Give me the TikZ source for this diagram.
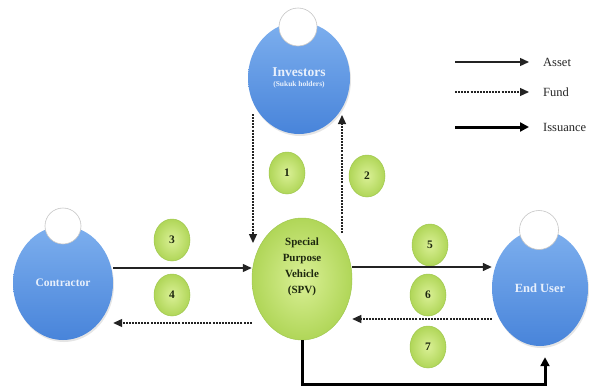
\documentclass[tikz,border=0pt]{standalone}
\usepackage{fontspec}
\setmainfont{Liberation Serif}
\usetikzlibrary{shapes.geometric,arrows.meta,calc,shadows}
\definecolor{blueL}{RGB}{125,175,238}
\definecolor{blueD}{RGB}{72,132,218}
\definecolor{greenL}{RGB}{218,240,150}
\definecolor{greenD}{RGB}{176,214,88}
\definecolor{greenE}{RGB}{160,200,80}
\definecolor{lineC}{RGB}{35,35,35}
\definecolor{txtW}{RGB}{232,240,252}
\definecolor{numT}{RGB}{30,40,15}
\begin{document}
\begin{tikzpicture}[x=1pt,y=-1pt,
  blueell/.style={ellipse, inner sep=0pt, top color=blueL, bottom color=blueD, draw=none,
    text=txtW, font=\bfseries, drop shadow={opacity=0.2, shadow xshift=1pt, shadow yshift=-2pt}},
  headc/.style={circle, inner sep=0pt, fill=white, draw=gray!45, line width=0.6pt},
  greenell/.style={ellipse, inner sep=0pt, inner color=greenL, outer color=greenD, draw=greenE, line width=0.5pt},
  numc/.style={greenell, minimum width=36pt, minimum height=42pt, text=numT,
    font=\bfseries\fontsize{11.5}{11.5}\selectfont},
  asset/.style={draw=lineC, line width=1.4pt, -{Triangle[length=9pt,width=8pt]}},
  fund/.style={draw=lineC, line width=1.2pt, dash pattern=on 2pt off 1.1pt, -{Triangle[length=9pt,width=8pt]}},
  issuance/.style={draw=black, line width=3pt, -{Triangle[length=9pt,width=9pt]}},
  legtxt/.style={anchor=west, inner sep=0pt, font=\fontsize{12.5}{12.5}\selectfont, text=black!85}
]
\useasboundingbox[fill=white] (0,0) rectangle (589,391);

% main nodes
\node[blueell, minimum width=102pt, minimum height=112pt, align=center] (inv) at (299,78)
  {\fontsize{13.5}{15}\selectfont Investors\\[-2pt]\fontsize{7.5}{9}\selectfont (Sukuk holders)};
\node[headc, minimum size=38pt] (invh) at (298,27) {};

\node[blueell, minimum width=100pt, minimum height=114pt, font=\bfseries\fontsize{11.5}{12}\selectfont] (con) at (63,283) {Contractor};
\node[headc, minimum size=36pt] (conh) at (63,226) {};

\node[blueell, minimum width=96pt, minimum height=116pt, font=\bfseries\fontsize{12.5}{13}\selectfont] (eu) at (540,288) {End User};
\node[headc, minimum size=39pt] (euh) at (539,230) {};

\node[greenell, minimum width=100pt, minimum height=122pt] (spv) at (302,279) {};
\node[align=center, inner sep=0pt, text=numT, font=\bfseries\fontsize{11}{16}\selectfont] (spvt) at (302,267)
  {Special\\Purpose\\Vehicle\\(SPV)};

% numbers
\node[numc] (n1) at (287,173) {1};
\node[numc] (n2) at (367,176) {2};
\node[numc] (n3) at (172,240) {3};
\node[numc] (n4) at (172,295) {4};
\node[numc] (n5) at (430,245) {5};
\node[numc] (n6) at (428,295) {6};
\node[numc] (n7) at (428,347) {7};

% connectors
\coordinate (invL) at ($(inv.center)+(-46,36)$);
\coordinate (spvTL) at ($(spv.center)+(-49,-36)$);
\coordinate (spvTR) at ($(spv.center)+(40,-46)$);
\coordinate (invR) at ($(inv.center)+(43,37)$);
\draw[fund] (invL) -- (spvTL);
\draw[fund] (spvTR) -- (invR);

\draw[asset] ([yshift=15pt]con.east) -- ([yshift=11pt]spv.west);
\draw[fund] ([yshift=-44pt]spv.west) -- ([yshift=-40pt]con.east);
\draw[asset] ([yshift=12pt]spv.east) -- ([yshift=21pt]eu.west);
\draw[fund] ([yshift=-31pt]eu.west) -- ([yshift=-40pt]spv.east);

\coordinate (euB) at ($(eu.south)+(5,11)$);
\draw[issuance] (spv.south) -- ++(0,44) -| (euB);

% legend
\node[legtxt] (lA) at (543,62) {Asset};
\node[legtxt] (lF) at (543,92) {Fund};
\node[legtxt] (lI) at (543,127) {Issuance};
\coordinate (sA) at (455,62);
\coordinate (sF) at (455,92);
\coordinate (sI) at (455,127);
\draw[asset] (sA) -- ([xshift=-14pt]lA.west);
\draw[fund] (sF) -- ([xshift=-14pt]lF.west);
\draw[issuance] (sI) -- ([xshift=-14pt]lI.west);
\end{tikzpicture}
\end{document}
